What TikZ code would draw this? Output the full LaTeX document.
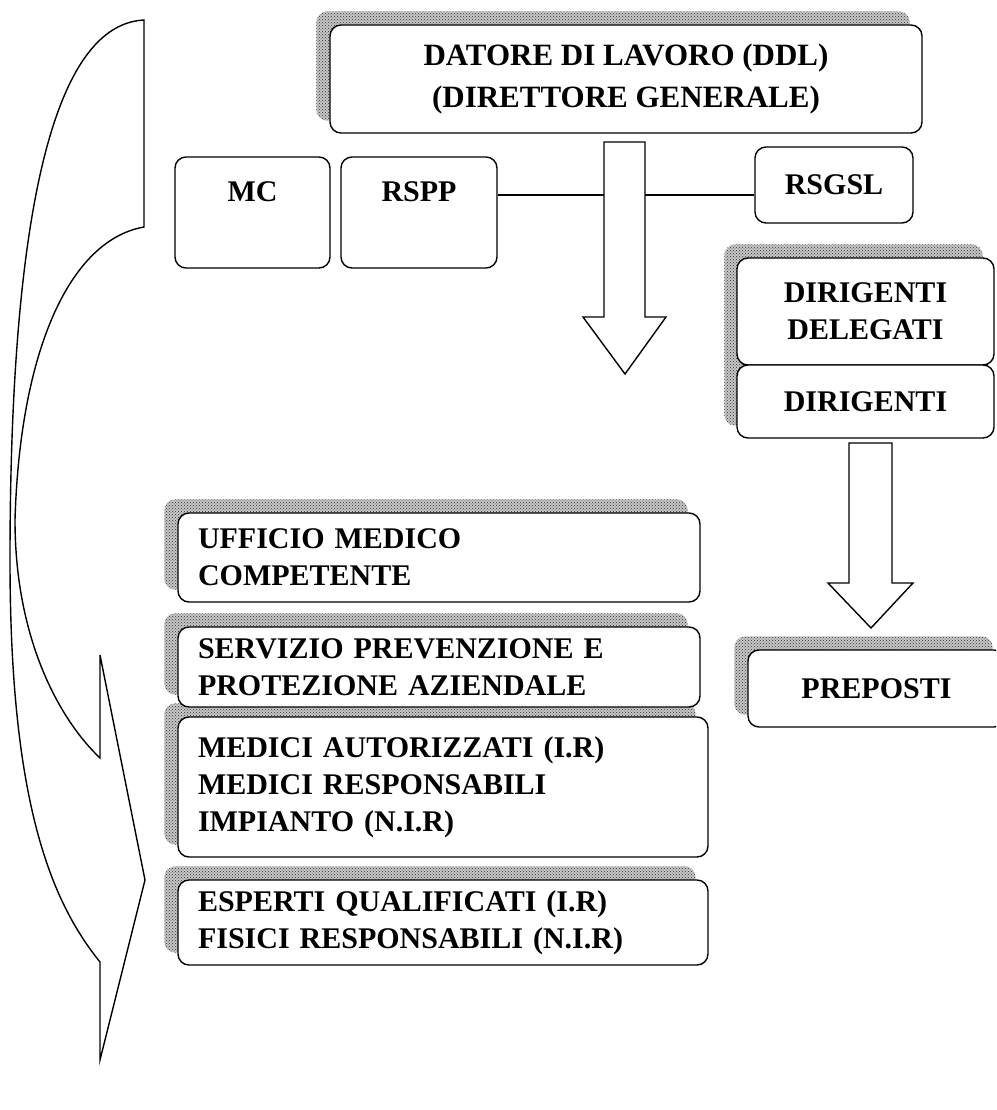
\documentclass[tikz,border=0pt]{standalone}
\usepackage{fontspec}
\setmainfont{Liberation Serif}
\usetikzlibrary{patterns}
\pgfdeclarelayer{bg}
\pgfdeclarelayer{shadowlayer}
\pgfsetlayers{bg,shadowlayer,main}
\begin{document}
\begin{tikzpicture}[x=1pt,y=-1pt,
  box/.style={draw=black, line width=1.4pt, rounded corners=11pt, fill=white, inner sep=0pt},
  txtfont/.style={font=\fontsize{30}{37}\selectfont\bfseries},
  lbox/.style={box, txtfont, align=left, inner xsep=20pt, inner ysep=0pt},
  cbox/.style={box, txtfont, align=center},
  lbl/.style={txtfont, inner sep=0pt},
  shadebg/.style={fill=gray!45, rounded corners=11pt},
  shade/.style={pattern=crosshatch dots, pattern color=black!80, rounded corners=11pt},
  outline/.style={draw=black, line width=1.4pt, fill=white, line join=miter},
  conn/.style={draw=black, line width=1.2pt}
]
\path[use as bounding box] (0,0) rectangle (996,1110);
\begin{pgfonlayer}{bg}
  \fill[white] (0,0) rectangle (996,1110);
\end{pgfonlayer}
\clip (0,0) rectangle (996,1110);

% left curved arrow
\draw[outline] (144,20) -- (144,227)
  .. controls (70,240) and (20,350) .. (15,520)
  .. controls (15,640) and (60,720) .. (100,758)
  -- (100,655) -- (145,880) -- (100,1060) -- (100,962)
  .. controls (50,900) and (10,800) .. (10,560)
  .. controls (10,250) and (45,25) .. (144,20) -- cycle;

% top box
\node[box, minimum width=592pt, minimum height=108pt, align=center,
      font=\fontsize{31}{42}\selectfont\bfseries] (ddl) at (626,79)
  {DATORE DI LAVORO (DDL)\\(DIRETTORE GENERALE)};

% MC / RSPP / RSGSL
\node[box, minimum width=155pt, minimum height=111pt] (mcbox) at (252.5,212.5) {};
\node[lbl] (mc) at (252.5,192) {MC};
\node[box, minimum width=156pt, minimum height=111pt] (rsppbox) at (419,212.5) {};
\node[lbl] (rspp) at (419,192) {RSPP};
\node[cbox, minimum width=158pt, minimum height=76pt] (rsgsl) at (834,185) {RSGSL};

% big down arrow
\draw[outline] (604,142) -- (645,142) -- (645,317) -- (666,317) -- (625,374)
  -- (583,317) -- (604,317) -- cycle;
\coordinate (shaftL) at (604,195);
\coordinate (shaftR) at (645,195);
\draw[conn] (rsppbox.east |- shaftL) -- (shaftL);
\draw[conn] (shaftR) -- (shaftR -| rsgsl.west);

% right column
\node[cbox, minimum width=257pt, minimum height=107pt] (dirdel) at (865.5,311.5) {DIRIGENTI\\DELEGATI};
\node[cbox, minimum width=257pt, minimum height=73pt] (dir) at (865.5,401.5) {DIRIGENTI};
\draw[outline] (849,443) -- (892,443) -- (892,583) -- (913,583) -- (871,628)
  -- (828,583) -- (849,583) -- cycle;
\node[cbox, minimum width=257pt, minimum height=77pt] (prep) at (876.5,688.5) {PREPOSTI};

% lower left column
\node[lbox, text width=482pt, minimum height=89pt] (uff) at (439,557.5)
  {UFFICIO MEDICO\\COMPETENTE};
\node[lbox, text width=482pt, minimum height=80pt] (serv) at (439,667)
  {SERVIZIO PREVENZIONE E\\PROTEZIONE AZIENDALE};
\node[lbox, text width=490pt, minimum height=140pt] (med) at (443,787)
  {MEDICI AUTORIZZATI (I.R)\\MEDICI RESPONSABILI\\IMPIANTO (N.I.R)};
\node[lbox, text width=490pt, minimum height=85pt] (esp) at (443,922.5)
  {ESPERTI QUALIFICATI (I.R)\\FISICI RESPONSABILI (N.I.R)};

% shadows
\begin{pgfonlayer}{shadowlayer}
  \foreach \n in {ddl,prep,uff,serv,med,esp} {
    \fill[shadebg] ([shift={(-13,-13)}]\n.south west) rectangle ([shift={(-13,-13)}]\n.north east);
    \fill[shade] ([shift={(-13,-13)}]\n.south west) rectangle ([shift={(-13,-13)}]\n.north east);
  }
  \fill[shadebg] ([shift={(-12,-13)}]dirdel.north west) rectangle ([shift={(-12,-13)}]dir.south east);
  \fill[shade] ([shift={(-12,-13)}]dirdel.north west) rectangle ([shift={(-12,-13)}]dir.south east);
\end{pgfonlayer}
\end{tikzpicture}
\end{document}
